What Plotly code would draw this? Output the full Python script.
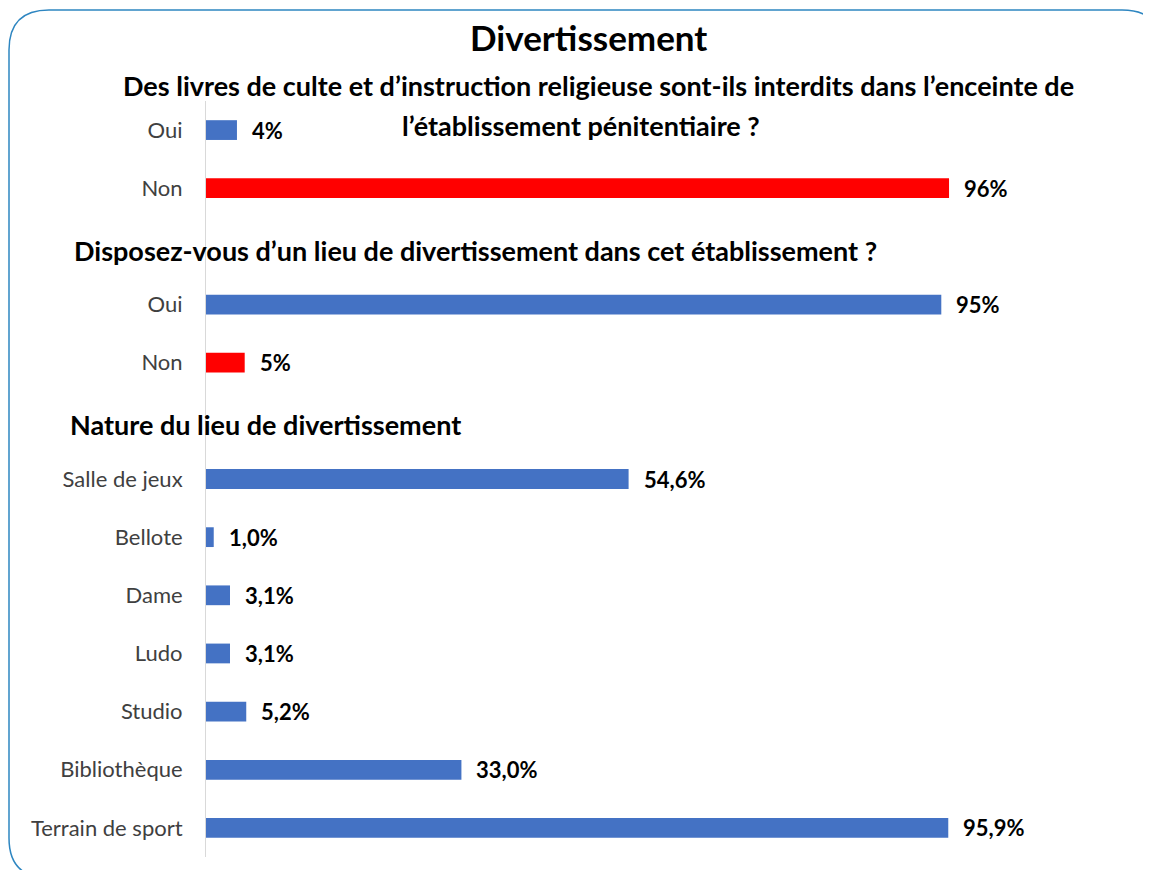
import plotly.graph_objects as go

# ---- data ----
categories = ["Oui", "Non", "", "Oui", "Non", "", "Salle de jeux", "Bellote", "Dame",
              "Ludo", "Studio", "Bibliothèque", "Terrain de sport"]
values = [4, 96, None, 95, 5, None, 54.6, 1.0, 3.1, 3.1, 5.2, 33.0, 95.9]
value_labels = ["4%", "96%", "", "95%", "5%", "", "54,6%", "1,0%", "3,1%", "3,1%",
                "5,2%", "33,0%", "95,9%"]
bar_colors = ["#4472C4", "#FF0000", "#4472C4", "#4472C4", "#FF0000", "#4472C4",
              "#4472C4", "#4472C4", "#4472C4", "#4472C4", "#4472C4", "#4472C4", "#4472C4"]
title_text = "Divertissement"
subtitle_1a = "Des livres de culte et d’instruction religieuse sont-ils interdits dans l’enceinte de"
subtitle_1b = "l’établissement pénitentiaire ?"
subtitle_2 = "Disposez-vous d’un lieu de divertissement dans cet établissement ?"
subtitle_3 = "Nature du lieu de divertissement"

OFF = 8  # page body margin
W, H = 1151 - OFF, 870 - OFF
# plot area in reference pixel coords
PL, PR, PT, PB = 206, 980, 101, 857
L, T = PL - OFF, PT - OFF
R, B = W - (PR - OFF), H - (PB - OFF)
PW, PH = PR - PL, PB - PT
FONT = "Lato, Calibri, sans-serif"

slots = list(range(len(categories)))

fig = go.Figure()
fig.add_trace(go.Bar(
    x=values, y=slots, orientation="h",
    marker=dict(color=bar_colors, line=dict(width=0)),
    width=0.34, hoverinfo="skip", showlegend=False,
))

for s, v, t in zip(slots, values, value_labels):
    if v is None:
        continue
    fig.add_annotation(x=v, y=s, text="<b>%s</b>" % t, showarrow=False,
                       xanchor="left", yanchor="middle", xshift=13,
                       font=dict(family=FONT, size=22, color="#000000"))

def px_x(px):
    return (px - PL) / PW

def px_y(py):
    return (PB - py) / PH

def add_text(txt, x, y, size, xanchor):
    fig.add_annotation(xref="paper", yref="paper", x=px_x(x), y=px_y(y),
                       text="<b>%s</b>" % txt, showarrow=False,
                       xanchor=xanchor, yanchor="middle",
                       font=dict(family=FONT, size=size, color="#000000"))

add_text(title_text, 588, 37, 35, "center")
add_text(subtitle_1a, 598, 85, 27, "center")
add_text(subtitle_1b, 581, 125, 27, "center")
add_text(subtitle_2, 72, 250, 27, "left")
add_text(subtitle_3, 68, 424, 27, "left")

# rounded border (reference pixel coords)
x0, x1 = 9, 1162
y0, y1 = 10, 878
r = 40
rx, ry = r / PW, r / PH
X0, X1 = px_x(x0), px_x(x1)
Y0, Y1 = px_y(y0), px_y(y1)
path = (f"M {X0+rx},{Y0} L {X1-rx},{Y0} Q {X1},{Y0} {X1},{Y0-ry} "
        f"L {X1},{Y1+ry} Q {X1},{Y1} {X1-rx},{Y1} "
        f"L {X0+rx},{Y1} Q {X0},{Y1} {X0},{Y1+ry} "
        f"L {X0},{Y0-ry} Q {X0},{Y0} {X0+rx},{Y0} Z")
fig.add_shape(type="path", xref="paper", yref="paper", path=path,
              line=dict(color="#2E86C1", width=1.5), layer="below")

fig.update_layout(
    width=W, height=H,
    margin=dict(l=L, r=R, t=T, b=B, autoexpand=False),
    paper_bgcolor="white", plot_bgcolor="white",
    xaxis=dict(range=[0, 100], visible=False, fixedrange=True),
    yaxis=dict(range=[12.5, -0.5], tickvals=slots, ticktext=categories,
               showgrid=False, zeroline=False, showline=True, linecolor="#D9D9D9",
               linewidth=1, ticks="", ticklabelstandoff=18,
               tickfont=dict(family=FONT, size=22, color="#404040")),
    font=dict(family=FONT),
)

fig.write_html("out.html")
